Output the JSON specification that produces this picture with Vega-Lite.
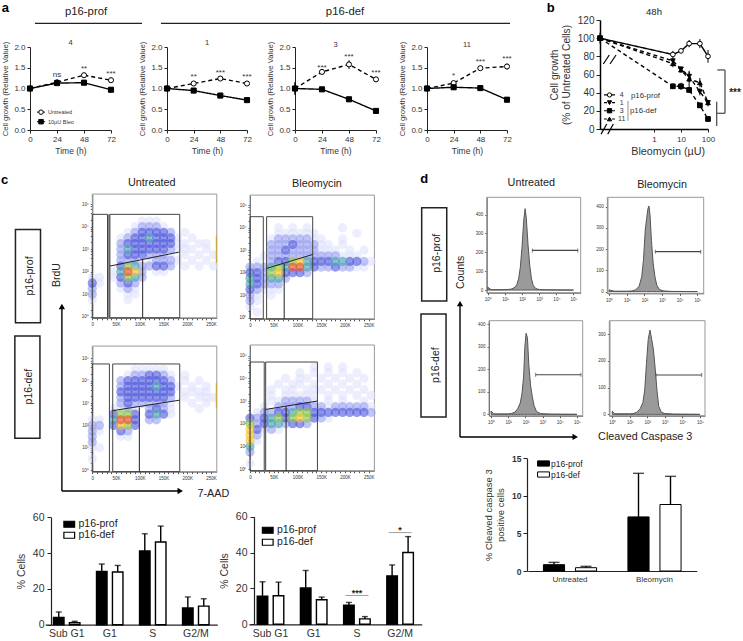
{"$schema":"https://vega.github.io/schema/vega-lite/v6.json","width":743,"height":641,"autosize":{"type":"none"},"padding":0,"background":"white",
"config":{"view":{"stroke":null},"text":{"font":"Liberation Sans","color":"#222"},"axis":{"grid":false,"labelFont":"Liberation Sans","titleFont":"Liberation Sans","titleFontWeight":"normal","labelColor":"#333","titleColor":"#333","domainColor":"#222","tickColor":"#222","labelOverlap":false,"labelFlush":false,"labelBound":false},"legend":{"labelFont":"Liberation Sans","labelColor":"#222"}},
"resolve":{"scale":{"x":"independent","y":"independent","fill":"independent","color":"independent","shape":"independent","strokeDash":"independent","xOffset":"independent"},"axis":{"x":"independent","y":"independent"},"legend":{"fill":"independent","color":"independent","shape":"independent","strokeDash":"independent"}},
"layer":[
{"data":{"values":[
{"group":"Untreated","time":0,"value":1,"low":0.98,"high":1.02},{"group":"Untreated","time":24,"value":1.15,"low":1.12,"high":1.18},{"group":"Untreated","time":48,"value":1.32,"low":1.29,"high":1.35},{"group":"Untreated","time":72,"value":1.2,"low":1.17,"high":1.23},
{"group":"10µU Bleo","time":0,"value":1,"low":0.98,"high":1.02},{"group":"10µU Bleo","time":24,"value":1.13,"low":1.1,"high":1.16},{"group":"10µU Bleo","time":48,"value":1.14,"low":1.11,"high":1.17},{"group":"10µU Bleo","time":72,"value":0.97,"low":0.94,"high":1},
{"role":"star","time":24,"value":1.33,"label":"ns"},{"role":"star","time":48,"value":1.47,"label":"**"},{"role":"star","time":72,"value":1.35,"label":"***"},
{"role":"num","time":36,"value":2.1,"label":"4"},
{"role":"big","time":49.8,"value":2.84,"label":"p16-prof"},{"role":"big","time":280,"value":2.84,"label":"p16-def"},
{"role":"letter","time":-22,"value":2.94,"label":"a"},
{"role":"bar","time":4.4,"time2":99.6,"value":2.57},{"role":"bar","time":116.4,"time2":426.7,"value":2.57},
{"role":"leg","legend":"Untreated","time":6.2,"time2":13.3,"mid":9.8,"value":0.43},{"role":"leg","legend":"10µU Bleo","time":6.2,"time2":13.3,"mid":9.8,"value":0.2}
]},
"encoding":{"x":{"field":"time","type":"quantitative","scale":{"domain":[0,72],"range":[30,111]},"axis":{"orient":"bottom","offset":-511,"values":[0,24,48,72],"title":"Time (h)","labelFontSize":8,"titleFontSize":8.5,"tickSize":3,"labelPadding":2,"titlePadding":3}},"y":{"field":"value","type":"quantitative","scale":{"domain":[0,2],"range":[130,47]},"axis":{"orient":"left","offset":-30,"values":[0,0.5,1,1.5,2],"format":".1f","title":"Cell growth (Relative Value)","labelFontSize":8,"titleFontSize":7.7,"tickSize":3,"labelPadding":2,"titlePadding":4}}},
"layer":[
{"transform":[{"filter":"datum.group"}],"mark":{"type":"rule","color":"#000"},"encoding":{"y":{"field":"low","type":"quantitative"},"y2":{"field":"high"}}},
{"transform":[{"filter":"datum.group"}],"mark":{"type":"line","color":"#000","strokeWidth":1.4},"encoding":{"strokeDash":{"field":"group","scale":{"domain":["Untreated","10µU Bleo"],"range":[[4,3],[1,0]]},"legend":null}}},
{"transform":[{"filter":"datum.group"}],"mark":{"type":"point","filled":true,"stroke":"#000","strokeWidth":1,"size":26,"opacity":1},"encoding":{"fill":{"field":"group","scale":{"domain":["Untreated","10µU Bleo"],"range":["#fff","#000"]},"legend":null},"shape":{"field":"group","scale":{"domain":["Untreated","10µU Bleo"],"range":["circle","square"]},"legend":null}}},
{"transform":[{"filter":"datum.role=='star'"}],"mark":{"type":"text","fontSize":8,"color":"#333"},"encoding":{"text":{"field":"label"}}},
{"transform":[{"filter":"datum.role=='num'"}],"mark":{"type":"text","fontSize":7.5,"color":"#333"},"encoding":{"text":{"field":"label"}}},
{"transform":[{"filter":"datum.role=='big'"}],"mark":{"type":"text","fontSize":11.3,"color":"#222"},"encoding":{"text":{"field":"label"}}},
{"transform":[{"filter":"datum.role=='letter'"}],"mark":{"type":"text","fontSize":13,"fontWeight":"bold","color":"#000"},"encoding":{"text":{"field":"label"}}},
{"transform":[{"filter":"datum.role=='bar'"}],"mark":{"type":"rule","color":"#222","strokeWidth":1.2},"encoding":{"x2":{"field":"time2"}}},
{"transform":[{"filter":"datum.role=='leg'"}],"mark":{"type":"rule","color":"#000","strokeWidth":1},"encoding":{"x2":{"field":"time2"}}},
{"transform":[{"filter":"datum.role=='leg'"}],"mark":{"type":"point","filled":true,"stroke":"#000","strokeWidth":1,"size":20,"opacity":1},"encoding":{"x":{"field":"mid","type":"quantitative"},"fill":{"field":"legend","scale":{"domain":["Untreated","10µU Bleo"],"range":["#fff","#000"]},"legend":null},"shape":{"field":"legend","scale":{"domain":["Untreated","10µU Bleo"],"range":["circle","square"]},"legend":null}}},
{"transform":[{"filter":"datum.role=='leg'"}],"mark":{"type":"text","fontSize":5.5,"align":"left","dx":3,"color":"#333"},"encoding":{"x":{"field":"time2","type":"quantitative"},"text":{"field":"legend"}}}
]},
{"data":{"values":[
{"group":"Untreated","time":0,"value":1,"low":0.98,"high":1.02},{"group":"Untreated","time":24,"value":1.12,"low":1.09,"high":1.15},{"group":"Untreated","time":48,"value":1.24,"low":1.21,"high":1.27},{"group":"Untreated","time":72,"value":1.12,"low":1.09,"high":1.15},
{"group":"10µU Bleo","time":0,"value":1,"low":0.98,"high":1.02},{"group":"10µU Bleo","time":24,"value":0.95,"low":0.92,"high":0.98},{"group":"10µU Bleo","time":48,"value":0.83,"low":0.8,"high":0.86},{"group":"10µU Bleo","time":72,"value":0.72,"low":0.69,"high":0.75},
{"role":"star","time":24,"value":1.27,"label":"**"},{"role":"star","time":48,"value":1.38,"label":"***"},{"role":"star","time":72,"value":1.28,"label":"***"},
{"role":"num","time":36,"value":2.1,"label":"1"}]},
"encoding":{"x":{"field":"time","type":"quantitative","scale":{"domain":[0,72],"range":[167,247]},"axis":{"orient":"bottom","offset":-511,"values":[0,24,48,72],"title":"Time (h)","labelFontSize":8,"titleFontSize":8.5,"tickSize":3,"labelPadding":2,"titlePadding":3}},"y":{"field":"value","type":"quantitative","scale":{"domain":[0,2],"range":[130,47]},"axis":{"orient":"left","offset":-167,"values":[0,0.5,1,1.5,2],"format":".1f","title":"Cell growth (Relative Value)","labelFontSize":8,"titleFontSize":7.7,"tickSize":3,"labelPadding":2,"titlePadding":4}}},
"layer":[
{"transform":[{"filter":"datum.group"}],"mark":{"type":"rule","color":"#000"},"encoding":{"y":{"field":"low","type":"quantitative"},"y2":{"field":"high"}}},
{"transform":[{"filter":"datum.group"}],"mark":{"type":"line","color":"#000","strokeWidth":1.4},"encoding":{"strokeDash":{"field":"group","scale":{"domain":["Untreated","10µU Bleo"],"range":[[4,3],[1,0]]},"legend":null}}},
{"transform":[{"filter":"datum.group"}],"mark":{"type":"point","filled":true,"stroke":"#000","strokeWidth":1,"size":26,"opacity":1},"encoding":{"fill":{"field":"group","scale":{"domain":["Untreated","10µU Bleo"],"range":["#fff","#000"]},"legend":null},"shape":{"field":"group","scale":{"domain":["Untreated","10µU Bleo"],"range":["circle","square"]},"legend":null}}},
{"transform":[{"filter":"datum.role=='star'"}],"mark":{"type":"text","fontSize":8,"color":"#333"},"encoding":{"text":{"field":"label"}}},
{"transform":[{"filter":"datum.role=='num'"}],"mark":{"type":"text","fontSize":7.5,"color":"#333"},"encoding":{"text":{"field":"label"}}}
]},
{"data":{"values":[
{"group":"Untreated","time":0,"value":1,"low":0.85,"high":1.15},{"group":"Untreated","time":24,"value":1.4,"low":1.36,"high":1.44},{"group":"Untreated","time":48,"value":1.58,"low":1.47,"high":1.68},{"group":"Untreated","time":72,"value":1.22,"low":1.18,"high":1.26},
{"group":"10µU Bleo","time":0,"value":1,"low":0.85,"high":1.15},{"group":"10µU Bleo","time":24,"value":0.98,"low":0.93,"high":1.03},{"group":"10µU Bleo","time":48,"value":0.74,"low":0.7,"high":0.78},{"group":"10µU Bleo","time":72,"value":0.46,"low":0.43,"high":0.49},
{"role":"star","time":24,"value":1.5,"label":"***"},{"role":"star","time":48,"value":1.77,"label":"***"},{"role":"star","time":72,"value":1.37,"label":"***"},
{"role":"num","time":36,"value":2.05,"label":"3"}]},
"encoding":{"x":{"field":"time","type":"quantitative","scale":{"domain":[0,72],"range":[295,376]},"axis":{"orient":"bottom","offset":-511,"values":[0,24,48,72],"title":"Time (h)","labelFontSize":8,"titleFontSize":8.5,"tickSize":3,"labelPadding":2,"titlePadding":3}},"y":{"field":"value","type":"quantitative","scale":{"domain":[0,2],"range":[130,47]},"axis":{"orient":"left","offset":-295,"values":[0,0.5,1,1.5,2],"format":".1f","title":"Cell growth (Relative Value)","labelFontSize":8,"titleFontSize":7.7,"tickSize":3,"labelPadding":2,"titlePadding":4}}},
"layer":[
{"transform":[{"filter":"datum.group"}],"mark":{"type":"rule","color":"#000"},"encoding":{"y":{"field":"low","type":"quantitative"},"y2":{"field":"high"}}},
{"transform":[{"filter":"datum.group"}],"mark":{"type":"line","color":"#000","strokeWidth":1.4},"encoding":{"strokeDash":{"field":"group","scale":{"domain":["Untreated","10µU Bleo"],"range":[[4,3],[1,0]]},"legend":null}}},
{"transform":[{"filter":"datum.group"}],"mark":{"type":"point","filled":true,"stroke":"#000","strokeWidth":1,"size":26,"opacity":1},"encoding":{"fill":{"field":"group","scale":{"domain":["Untreated","10µU Bleo"],"range":["#fff","#000"]},"legend":null},"shape":{"field":"group","scale":{"domain":["Untreated","10µU Bleo"],"range":["circle","square"]},"legend":null}}},
{"transform":[{"filter":"datum.role=='star'"}],"mark":{"type":"text","fontSize":8,"color":"#333"},"encoding":{"text":{"field":"label"}}},
{"transform":[{"filter":"datum.role=='num'"}],"mark":{"type":"text","fontSize":7.5,"color":"#333"},"encoding":{"text":{"field":"label"}}}
]},
{"data":{"values":[
{"group":"Untreated","time":0,"value":1,"low":0.98,"high":1.02},{"group":"Untreated","time":24,"value":1.13,"low":1.09,"high":1.17},{"group":"Untreated","time":48,"value":1.49,"low":1.45,"high":1.53},{"group":"Untreated","time":72,"value":1.53,"low":1.46,"high":1.6},
{"group":"10µU Bleo","time":0,"value":1,"low":0.98,"high":1.02},{"group":"10µU Bleo","time":24,"value":1.03,"low":1,"high":1.06},{"group":"10µU Bleo","time":48,"value":1.01,"low":0.98,"high":1.04},{"group":"10µU Bleo","time":72,"value":0.73,"low":0.67,"high":0.79},
{"role":"star","time":24,"value":1.3,"label":"*"},{"role":"star","time":48,"value":1.63,"label":"***"},{"role":"star","time":72,"value":1.71,"label":"***"},
{"role":"num","time":36,"value":2.05,"label":"11"}]},
"encoding":{"x":{"field":"time","type":"quantitative","scale":{"domain":[0,72],"range":[427,507]},"axis":{"orient":"bottom","offset":-511,"values":[0,24,48,72],"title":"Time (h)","labelFontSize":8,"titleFontSize":8.5,"tickSize":3,"labelPadding":2,"titlePadding":3}},"y":{"field":"value","type":"quantitative","scale":{"domain":[0,2],"range":[130,47]},"axis":{"orient":"left","offset":-427,"values":[0,0.5,1,1.5,2],"format":".1f","title":"Cell growth (Relative Value)","labelFontSize":8,"titleFontSize":7.7,"tickSize":3,"labelPadding":2,"titlePadding":4}}},
"layer":[
{"transform":[{"filter":"datum.group"}],"mark":{"type":"rule","color":"#000"},"encoding":{"y":{"field":"low","type":"quantitative"},"y2":{"field":"high"}}},
{"transform":[{"filter":"datum.group"}],"mark":{"type":"line","color":"#000","strokeWidth":1.4},"encoding":{"strokeDash":{"field":"group","scale":{"domain":["Untreated","10µU Bleo"],"range":[[4,3],[1,0]]},"legend":null}}},
{"transform":[{"filter":"datum.group"}],"mark":{"type":"point","filled":true,"stroke":"#000","strokeWidth":1,"size":26,"opacity":1},"encoding":{"fill":{"field":"group","scale":{"domain":["Untreated","10µU Bleo"],"range":["#fff","#000"]},"legend":null},"shape":{"field":"group","scale":{"domain":["Untreated","10µU Bleo"],"range":["circle","square"]},"legend":null}}},
{"transform":[{"filter":"datum.role=='star'"}],"mark":{"type":"text","fontSize":8,"color":"#333"},"encoding":{"text":{"field":"label"}}},
{"transform":[{"filter":"datum.role=='num'"}],"mark":{"type":"text","fontSize":7.5,"color":"#333"},"encoding":{"text":{"field":"label"}}}
]},
{"data":{"values":[
{"group":"4","dose":0.01,"value":100,"low":94,"high":106},{"group":"4","dose":5,"value":82,"low":78,"high":86},{"group":"4","dose":10,"value":86,"low":84,"high":88},{"group":"4","dose":20,"value":94,"low":90,"high":98},{"group":"4","dose":50,"value":94,"low":89,"high":99},{"group":"4","dose":100,"value":80,"low":73,"high":87},
{"group":"1","dose":0.01,"value":100,"low":97,"high":103},{"group":"1","dose":5,"value":75,"low":72,"high":78},{"group":"1","dose":10,"value":66,"low":63,"high":69},{"group":"1","dose":20,"value":58,"low":52,"high":64},{"group":"1","dose":50,"value":41,"low":37,"high":45},{"group":"1","dose":100,"value":29,"low":26,"high":32},
{"group":"3","dose":0.01,"value":100,"low":97,"high":103},{"group":"3","dose":5,"value":47,"low":44,"high":50},{"group":"3","dose":10,"value":47,"low":43,"high":51},{"group":"3","dose":20,"value":43,"low":40,"high":46},{"group":"3","dose":50,"value":26,"low":23,"high":29},{"group":"3","dose":100,"value":11,"low":9,"high":13},
{"group":"11","dose":0.01,"value":100,"low":97,"high":103},{"group":"11","dose":5,"value":72,"low":68,"high":76},{"group":"11","dose":10,"value":65,"low":62,"high":68},{"group":"11","dose":20,"value":55,"low":46,"high":63},{"group":"11","dose":50,"value":51,"low":46,"high":56},{"group":"11","dose":100,"value":29,"low":25,"high":32},
{"role":"title","dose":1,"value":129,"label":"48h"},{"role":"letter","dose":0.0082,"value":133,"label":"b"},
{"role":"slash","dose":0.01325,"dose2":0.0221,"value":71.6,"value2":81.5},{"role":"slash","dose":0.02346,"dose2":0.0392,"value":71.6,"value2":81.5},{"role":"slash","dose":0.0109,"dose2":0.0177,"value":-5.8,"value2":5.5},{"role":"slash","dose":0.0193,"dose2":0.0311,"value":-5.8,"value2":5.5},
{"role":"sig","dose":221,"dose2":426,"value":65,"value2":65},{"role":"sig","dose":426,"dose2":426,"value":65,"value2":17.3},{"role":"sig","dose":210,"dose2":426,"value":17.3,"value2":17.3},{"role":"sig","dose":210,"dose2":210,"value":30,"value2":3.3},
{"role":"sigtext","dose":1000,"value":40,"label":"***"},
{"role":"leg","legend":"4","dose":0.01406,"dose2":0.0359,"mid":0.0225,"value":37.5,"lx":0.0637},{"role":"leg","legend":"1","dose":0.01406,"dose2":0.0359,"mid":0.0225,"value":29,"lx":0.0637},{"role":"leg","legend":"3","dose":0.01406,"dose2":0.0359,"mid":0.0225,"value":20.1,"lx":0.0637},{"role":"leg","legend":"11","dose":0.01406,"dose2":0.0359,"mid":0.0225,"value":11,"lx":0.0637},
{"role":"type","dose":0.1406,"value":36.3,"label":"p16-prof"},{"role":"type","dose":0.1292,"value":20.1,"label":"p16-def"},
{"role":"brace","dose":0.1089,"dose2":0.1089,"value":31,"value2":9}
]},
"encoding":{"x":{"field":"dose","type":"quantitative","scale":{"type":"log","domain":[0.01,100],"range":[600,708],"nice":false},"axis":{"orient":"bottom","offset":-512,"values":[1,10,100],"format":"d","title":"Bleomycin (µU)","titleX":667.7,"labelFontSize":8,"titleFontSize":10.8,"tickSize":3,"labelPadding":3,"titlePadding":2,"domainWidth":1.5,"domainColor":"#000"}},"y":{"field":"value","type":"quantitative","scale":{"domain":[0,120],"range":[129,20]},"axis":{"orient":"left","offset":-600,"values":[0,20,40,60,80,100,120],"title":["Cell growth","(% of Untreated Cells)"],"labelFontSize":10,"titleFontSize":10.2,"titleLineHeight":12,"tickSize":4,"labelPadding":2,"titlePadding":6,"domainWidth":1.5,"domainColor":"#000"}}},
"layer":[
{"transform":[{"filter":"datum.group"}],"mark":{"type":"rule","color":"#000"},"encoding":{"y":{"field":"low","type":"quantitative"},"y2":{"field":"high"}}},
{"transform":[{"filter":"datum.group"}],"mark":{"type":"line","color":"#000","strokeWidth":1.4},"encoding":{"strokeDash":{"field":"group","scale":{"domain":["4","1","3","11"],"range":[[1,0],[4,3],[4,3],[4,3]]},"legend":null}}},
{"transform":[{"filter":"datum.group"}],"mark":{"type":"point","filled":true,"stroke":"#000","strokeWidth":1,"size":22,"opacity":1},"encoding":{"fill":{"field":"group","scale":{"domain":["4","1","3","11"],"range":["#fff","#000","#000","#000"]},"legend":null},"shape":{"field":"group","scale":{"domain":["4","1","3","11"],"range":["circle","triangle-down","square","triangle-up"]},"legend":null}}},
{"transform":[{"filter":"datum.role=='title'"}],"mark":{"type":"text","fontSize":9.5},"encoding":{"text":{"field":"label"}}},
{"transform":[{"filter":"datum.role=='letter'"}],"mark":{"type":"text","fontSize":13,"fontWeight":"bold","color":"#000","dx":-47},"encoding":{"text":{"field":"label"}}},
{"transform":[{"filter":"datum.role=='slash'"}],"mark":{"type":"rule","color":"#000","strokeWidth":1.2},"encoding":{"x2":{"field":"dose2"},"y2":{"field":"value2"}}},
{"transform":[{"filter":"datum.role=='sig'"}],"mark":{"type":"rule","color":"#444","strokeWidth":1.2},"encoding":{"x2":{"field":"dose2"},"y2":{"field":"value2"}}},
{"transform":[{"filter":"datum.role=='sigtext'"}],"mark":{"type":"text","fontSize":10,"fontWeight":"bold"},"encoding":{"text":{"field":"label"}}},
{"transform":[{"filter":"datum.role=='leg'"}],"mark":{"type":"rule","color":"#000","strokeWidth":1.2,"strokeDash":[3,1]},"encoding":{"x2":{"field":"dose2"}}},
{"transform":[{"filter":"datum.role=='leg'"}],"mark":{"type":"point","filled":true,"stroke":"#000","strokeWidth":1,"size":18,"opacity":1},"encoding":{"x":{"field":"mid","type":"quantitative"},"fill":{"field":"legend","scale":{"domain":["4","1","3","11"],"range":["#fff","#000","#000","#000"]},"legend":null},"shape":{"field":"legend","scale":{"domain":["4","1","3","11"],"range":["circle","triangle-down","square","triangle-up"]},"legend":null}}},
{"transform":[{"filter":"datum.role=='leg'"}],"mark":{"type":"text","fontSize":7,"color":"#333"},"encoding":{"x":{"field":"lx","type":"quantitative"},"text":{"field":"legend"}}},
{"transform":[{"filter":"datum.role=='type'"}],"mark":{"type":"text","fontSize":7.8,"align":"left","color":"#333"},"encoding":{"text":{"field":"label"}}},
{"transform":[{"filter":"datum.role=='brace'"}],"mark":{"type":"rule","color":"#777","strokeWidth":0.8},"encoding":{"x2":{"field":"dose2"},"y2":{"field":"value2"}}}
]},
{"data":{"values":[
{"role":"frame","k":0,"k2":262,"e":-0.05,"e2":5.45},
{"k":105,"e":4.25,"d":1},{"k":120,"e":4.25,"d":1},{"k":135,"e":4.25,"d":1},
{"k":90,"e":4,"d":1},{"k":105,"e":4,"d":2},{"k":120,"e":4,"d":2},{"k":135,"e":4,"d":2},{"k":150,"e":4,"d":1},
{"k":75,"e":3.75,"d":1},{"k":90,"e":3.75,"d":2},{"k":105,"e":3.75,"d":3},{"k":120,"e":3.75,"d":3},{"k":135,"e":3.75,"d":3},{"k":150,"e":3.75,"d":3},{"k":165,"e":3.75,"d":2},{"k":195,"e":3.75,"d":1},
{"k":60,"e":3.5,"d":1},{"k":75,"e":3.5,"d":2},{"k":90,"e":3.5,"d":3},{"k":105,"e":3.5,"d":3},{"k":120,"e":3.5,"d":4},{"k":135,"e":3.5,"d":3},{"k":150,"e":3.5,"d":3},{"k":165,"e":3.5,"d":3},{"k":180,"e":3.5,"d":1},{"k":210,"e":3.5,"d":1},
{"k":60,"e":3.25,"d":2},{"k":75,"e":3.25,"d":3},{"k":90,"e":3.25,"d":3},{"k":105,"e":3.25,"d":3},{"k":120,"e":3.25,"d":3},{"k":135,"e":3.25,"d":3},{"k":150,"e":3.25,"d":3},{"k":165,"e":3.25,"d":3},{"k":180,"e":3.25,"d":1},{"k":195,"e":3.25,"d":1},{"k":225,"e":3.25,"d":1},{"k":240,"e":3.25,"d":1},
{"k":60,"e":3,"d":2},{"k":75,"e":3,"d":4},{"k":90,"e":3,"d":3},{"k":105,"e":3,"d":3},{"k":120,"e":3,"d":3},{"k":135,"e":3,"d":3},{"k":150,"e":3,"d":3},{"k":165,"e":3,"d":2},{"k":180,"e":3,"d":1},{"k":195,"e":3,"d":1},{"k":210,"e":3,"d":1},{"k":240,"e":3,"d":1},
{"k":60,"e":2.75,"d":2},{"k":75,"e":2.75,"d":3},{"k":90,"e":2.75,"d":3},{"k":105,"e":2.75,"d":3},{"k":120,"e":2.75,"d":2},{"k":135,"e":2.75,"d":2},{"k":150,"e":2.75,"d":2},{"k":165,"e":2.75,"d":1},{"k":195,"e":2.75,"d":1},{"k":225,"e":2.75,"d":1},{"k":255,"e":2.75,"d":1},
{"k":60,"e":2.5,"d":2},{"k":75,"e":2.5,"d":2},{"k":90,"e":2.5,"d":2},{"k":120,"e":2.5,"d":1},{"k":135,"e":2.5,"d":2},{"k":150,"e":2.5,"d":2},{"k":165,"e":2.5,"d":2},{"k":180,"e":2.5,"d":1},{"k":210,"e":2.5,"d":1},{"k":240,"e":2.5,"d":1},
{"k":60,"e":2.25,"d":3},{"k":75,"e":2.25,"d":5},{"k":90,"e":2.25,"d":4},{"k":105,"e":2.25,"d":2},{"k":120,"e":2.25,"d":2},{"k":135,"e":2.25,"d":3},{"k":150,"e":2.25,"d":3},{"k":165,"e":2.25,"d":2},{"k":195,"e":2.25,"d":1},{"k":225,"e":2.25,"d":1},{"k":255,"e":2.25,"d":1},
{"k":45,"e":2,"d":1},{"k":60,"e":2,"d":4},{"k":75,"e":2,"d":7},{"k":90,"e":2,"d":6},{"k":105,"e":2,"d":2},{"k":135,"e":2,"d":1},{"k":150,"e":2,"d":1},
{"k":0,"e":1.75,"d":1},{"k":15,"e":1.75,"d":1},{"k":45,"e":1.75,"d":1},{"k":60,"e":1.75,"d":3},{"k":75,"e":1.75,"d":5},{"k":90,"e":1.75,"d":4},{"k":105,"e":1.75,"d":2},
{"k":0,"e":1.5,"d":3},{"k":15,"e":1.5,"d":1},{"k":60,"e":1.5,"d":2},{"k":75,"e":1.5,"d":3},{"k":90,"e":1.5,"d":2},
{"k":0,"e":1.25,"d":2},{"k":60,"e":1.25,"d":1},{"k":75,"e":1.25,"d":2},{"k":90,"e":1.25,"d":1},
{"k":0,"e":1,"d":2},{"k":75,"e":1,"d":1},{"k":90,"e":1,"d":1},{"k":0,"e":0.75,"d":1},{"k":75,"e":0.75,"d":1},
{"role":"band","k":32,"k2":37,"e":-0.05,"e2":4.55},
{"role":"edge","k":261,"k2":261,"e":2.4,"e2":3.6},
{"role":"box","k":0,"k2":32,"e":-0.05,"e2":4.55},{"role":"box","k":37,"k2":184,"e":-0.05,"e2":4.55},
{"role":"gate","k":37,"k2":182,"e":2.25,"e2":2.87},{"role":"gate","k":106,"k2":106,"e":-0.05,"e2":2.52},
{"role":"head","k":125,"e":5.94,"label":"Untreated"},
{"role":"letter","k":-184.3,"e":6.08,"label":"c"},
{"role":"side","k":-161.7,"k2":-109,"e":3.88,"e2":-0.27},{"role":"side","k":-163,"k2":-110.2,"e":-0.86,"e2":-5.4},
{"role":"vlabel","k":-131.5,"e":1.81,"label":"p16-prof"},{"role":"vlabel","k":-133.7,"e":-3.11,"label":"p16-def"},{"role":"vlabel","k":-75.2,"e":1.85,"label":"BrdU"},
{"role":"head","k":254.8,"e":-7.88,"label":"7-AAD"},
{"role":"arrow","k":-64,"k2":-64,"e":0.4,"e2":-7.75},{"role":"arrow","k":-64,"k2":183,"e":-7.75,"e2":-7.75},
{"role":"up","k":-64,"e":0.45},{"role":"right","k":185,"e":-7.75}
]},
"encoding":{"x":{"field":"k","type":"quantitative","scale":{"domain":[0,262],"range":[92.3,216.8]},"axis":{"orient":"bottom","offset":-323.2,"values":[0,10,20,30,40,50,60,70,80,90,100,110,120,130,140,150,160,170,180,190,200,210,220,230,240,250],"labelExpr":"datum.value%50==0?(datum.value==0?'0':datum.value+'K'):''","title":null,"labelFontSize":4.5,"tickSize":2,"labelPadding":2,"domainColor":"#555","tickColor":"#555"}},"y":{"field":"e","type":"quantitative","scale":{"domain":[-0.05,5.45],"range":[317.8,194.1]},"axis":{"orient":"left","offset":-92.3,"values":[0,0.3,0.6,0.8,0.9,1,1.3,1.6,1.8,1.9,2,2.3,2.6,2.8,2.9,3,3.3,3.6,3.8,3.9,4,4.3,4.6,4.8,4.9,5],"labelExpr":"datum.value%1==0?'10'+['⁰','¹','²','³','⁴','⁵'][datum.value]:''","title":null,"labelFontSize":4.5,"tickSize":2,"labelPadding":2,"domainColor":"#555","tickColor":"#555"}}},
"layer":[
{"transform":[{"filter":"datum.role=='frame'"}],"mark":{"type":"rect","filled":false,"stroke":"#999","strokeWidth":1},"encoding":{"x2":{"field":"k2"},"y2":{"field":"e2"}}},
{"transform":[{"filter":"datum.d"}],"mark":{"type":"circle","size":85,"opacity":0.6},"encoding":{"order":{"field":"d","type":"quantitative"},"color":{"field":"d","type":"ordinal","scale":{"domain":[1,2,3,4,5,6,7],"range":["#dfe2fb","#969ef0","#4a54dc","#3f9fb0","#86c43c","#f2c21f","#e8431a"]},"legend":null}}},
{"transform":[{"filter":"datum.role=='band'"}],"mark":{"type":"rect","fill":"#888"},"encoding":{"x2":{"field":"k2"},"y2":{"field":"e2"}}},
{"transform":[{"filter":"datum.role=='edge'"}],"mark":{"type":"rule","color":"#c9a227","strokeWidth":1},"encoding":{"x2":{"field":"k2"},"y2":{"field":"e2"}}},
{"transform":[{"filter":"datum.role=='box'"}],"mark":{"type":"rect","filled":false,"stroke":"#444","strokeWidth":1},"encoding":{"x2":{"field":"k2"},"y2":{"field":"e2"}}},
{"transform":[{"filter":"datum.role=='gate'"}],"mark":{"type":"rule","color":"#222","strokeWidth":1},"encoding":{"x2":{"field":"k2"},"y2":{"field":"e2"}}},
{"transform":[{"filter":"datum.role=='head'"}],"mark":{"type":"text","fontSize":10.8},"encoding":{"text":{"field":"label"}}},
{"transform":[{"filter":"datum.role=='letter'"}],"mark":{"type":"text","fontSize":13,"fontWeight":"bold","color":"#000"},"encoding":{"text":{"field":"label"}}},
{"transform":[{"filter":"datum.role=='side'"}],"mark":{"type":"rect","filled":false,"stroke":"#222","strokeWidth":1.5},"encoding":{"x2":{"field":"k2"},"y2":{"field":"e2"}}},
{"transform":[{"filter":"datum.role=='vlabel'"}],"mark":{"type":"text","fontSize":10.5,"angle":270},"encoding":{"text":{"field":"label"}}},
{"transform":[{"filter":"datum.role=='arrow'"}],"mark":{"type":"rule","color":"#000","strokeWidth":1.4},"encoding":{"x2":{"field":"k2"},"y2":{"field":"e2"}}},
{"transform":[{"filter":"datum.role=='up'"}],"mark":{"type":"point","shape":"triangle-up","filled":true,"color":"#000","size":40,"opacity":1}},
{"transform":[{"filter":"datum.role=='right'"}],"mark":{"type":"point","shape":"triangle-right","filled":true,"color":"#000","size":40,"opacity":1}}
]},
{"data":{"values":[
{"role":"frame","k":0,"k2":262,"e":-0.05,"e2":5.45},
{"k":60,"e":4,"d":1},{"k":90,"e":4,"d":1},{"k":120,"e":4,"d":1},{"k":195,"e":4,"d":1},
{"k":60,"e":3.75,"d":1},{"k":75,"e":3.75,"d":1},{"k":90,"e":3.75,"d":1},{"k":105,"e":3.75,"d":1},{"k":120,"e":3.75,"d":1},{"k":135,"e":3.75,"d":1},{"k":225,"e":3.75,"d":1},
{"k":45,"e":3.5,"d":1},{"k":60,"e":3.5,"d":2},{"k":75,"e":3.5,"d":2},{"k":90,"e":3.5,"d":2},{"k":105,"e":3.5,"d":2},{"k":120,"e":3.5,"d":2},{"k":135,"e":3.5,"d":1},{"k":150,"e":3.5,"d":1},{"k":195,"e":3.5,"d":1},
{"k":45,"e":3.25,"d":2},{"k":60,"e":3.25,"d":2},{"k":75,"e":3.25,"d":2},{"k":90,"e":3.25,"d":3},{"k":105,"e":3.25,"d":2},{"k":120,"e":3.25,"d":2},{"k":135,"e":3.25,"d":2},{"k":150,"e":3.25,"d":1},{"k":165,"e":3.25,"d":1},{"k":195,"e":3.25,"d":1},
{"k":45,"e":3,"d":2},{"k":60,"e":3,"d":2},{"k":75,"e":3,"d":3},{"k":90,"e":3,"d":2},{"k":105,"e":3,"d":2},{"k":120,"e":3,"d":2},{"k":135,"e":3,"d":2},{"k":150,"e":3,"d":1},{"k":165,"e":3,"d":1},{"k":180,"e":3,"d":1},{"k":210,"e":3,"d":1},{"k":240,"e":3,"d":1},
{"k":30,"e":2.75,"d":1},{"k":45,"e":2.75,"d":2},{"k":60,"e":2.75,"d":2},{"k":75,"e":2.75,"d":2},{"k":90,"e":2.75,"d":2},{"k":105,"e":2.75,"d":2},{"k":120,"e":2.75,"d":2},{"k":135,"e":2.75,"d":2},{"k":150,"e":2.75,"d":2},{"k":165,"e":2.75,"d":2},{"k":180,"e":2.75,"d":2},{"k":195,"e":2.75,"d":1},{"k":210,"e":2.75,"d":1},{"k":225,"e":2.75,"d":1},
{"k":15,"e":2.5,"d":1},{"k":45,"e":2.5,"d":2},{"k":60,"e":2.5,"d":3},{"k":75,"e":2.5,"d":3},{"k":90,"e":2.5,"d":5},{"k":105,"e":2.5,"d":6},{"k":120,"e":2.5,"d":4},{"k":135,"e":2.5,"d":3},{"k":150,"e":2.5,"d":3},{"k":165,"e":2.5,"d":3},{"k":180,"e":2.5,"d":4},{"k":195,"e":2.5,"d":4},{"k":210,"e":2.5,"d":3},{"k":225,"e":2.5,"d":3},{"k":240,"e":2.5,"d":2},{"k":255,"e":2.5,"d":1},
{"k":0,"e":2.25,"d":2},{"k":15,"e":2.25,"d":2},{"k":30,"e":2.25,"d":2},{"k":45,"e":2.25,"d":4},{"k":60,"e":2.25,"d":5},{"k":75,"e":2.25,"d":4},{"k":90,"e":2.25,"d":7},{"k":105,"e":2.25,"d":7},{"k":120,"e":2.25,"d":4},{"k":135,"e":2.25,"d":3},{"k":150,"e":2.25,"d":2},{"k":165,"e":2.25,"d":2},{"k":180,"e":2.25,"d":3},{"k":195,"e":2.25,"d":2},{"k":210,"e":2.25,"d":2},{"k":225,"e":2.25,"d":1},{"k":240,"e":2.25,"d":1},
{"k":0,"e":2,"d":3},{"k":15,"e":2,"d":3},{"k":30,"e":2,"d":2},{"k":45,"e":2,"d":5},{"k":60,"e":2,"d":6},{"k":75,"e":2,"d":3},{"k":90,"e":2,"d":3},{"k":105,"e":2,"d":3},{"k":120,"e":2,"d":2},
{"k":0,"e":1.75,"d":4},{"k":15,"e":1.75,"d":3},{"k":30,"e":1.75,"d":2},{"k":45,"e":1.75,"d":4},{"k":60,"e":1.75,"d":4},{"k":75,"e":1.75,"d":2},
{"k":0,"e":1.5,"d":4},{"k":15,"e":1.5,"d":3},{"k":30,"e":1.5,"d":2},{"k":45,"e":1.5,"d":2},{"k":60,"e":1.5,"d":2},
{"k":0,"e":1.25,"d":3},{"k":15,"e":1.25,"d":2},{"k":30,"e":1.25,"d":1},{"k":45,"e":1.25,"d":1},{"k":60,"e":1.25,"d":1},
{"k":0,"e":1,"d":2},{"k":15,"e":1,"d":1},{"k":45,"e":1,"d":1},{"k":0,"e":0.75,"d":2},{"k":15,"e":0.75,"d":1},{"k":0,"e":0.5,"d":1},{"k":15,"e":0.25,"d":1},
{"role":"box","k":0,"k2":28,"e":-0.05,"e2":4.49},{"role":"box","k":35,"k2":132,"e":-0.05,"e2":4.49},
{"role":"gate","k":35,"k2":132,"e":2.19,"e2":2.81},{"role":"gate","k":72,"k2":72,"e":-0.05,"e2":2.39},
{"role":"head","k":141,"e":5.94,"label":"Bleomycin"}
]},
"encoding":{"x":{"field":"k","type":"quantitative","scale":{"domain":[0,262],"range":[250,374.4]},"axis":{"orient":"bottom","offset":-322.2,"values":[0,10,20,30,40,50,60,70,80,90,100,110,120,130,140,150,160,170,180,190,200,210,220,230,240,250],"labelExpr":"datum.value%50==0?(datum.value==0?'0':datum.value+'K'):''","title":null,"labelFontSize":4.5,"tickSize":2,"labelPadding":2,"domainColor":"#555","tickColor":"#555"}},"y":{"field":"e","type":"quantitative","scale":{"domain":[-0.05,5.45],"range":[318.8,195.1]},"axis":{"orient":"left","offset":-250,"values":[0,0.3,0.6,0.8,0.9,1,1.3,1.6,1.8,1.9,2,2.3,2.6,2.8,2.9,3,3.3,3.6,3.8,3.9,4,4.3,4.6,4.8,4.9,5],"labelExpr":"datum.value%1==0?'10'+['⁰','¹','²','³','⁴','⁵'][datum.value]:''","title":null,"labelFontSize":4.5,"tickSize":2,"labelPadding":2,"domainColor":"#555","tickColor":"#555"}}},
"layer":[
{"transform":[{"filter":"datum.role=='frame'"}],"mark":{"type":"rect","filled":false,"stroke":"#999","strokeWidth":1},"encoding":{"x2":{"field":"k2"},"y2":{"field":"e2"}}},
{"transform":[{"filter":"datum.d"}],"mark":{"type":"circle","size":85,"opacity":0.6},"encoding":{"order":{"field":"d","type":"quantitative"},"color":{"field":"d","type":"ordinal","scale":{"domain":[1,2,3,4,5,6,7],"range":["#dfe2fb","#969ef0","#4a54dc","#3f9fb0","#86c43c","#f2c21f","#e8431a"]},"legend":null}}},
{"transform":[{"filter":"datum.role=='box'"}],"mark":{"type":"rect","filled":false,"stroke":"#444","strokeWidth":1},"encoding":{"x2":{"field":"k2"},"y2":{"field":"e2"}}},
{"transform":[{"filter":"datum.role=='gate'"}],"mark":{"type":"rule","color":"#222","strokeWidth":1},"encoding":{"x2":{"field":"k2"},"y2":{"field":"e2"}}},
{"transform":[{"filter":"datum.role=='head'"}],"mark":{"type":"text","fontSize":10.8},"encoding":{"text":{"field":"label"}}}
]},
{"data":{"values":[
{"role":"frame","k":0,"k2":262,"e":-0.07,"e2":5.55},
{"k":90,"e":4.5,"d":1},{"k":105,"e":4.5,"d":1},{"k":120,"e":4.5,"d":1},{"k":135,"e":4.5,"d":1},{"k":150,"e":4.5,"d":1},
{"k":75,"e":4.25,"d":1},{"k":90,"e":4.25,"d":2},{"k":105,"e":4.25,"d":2},{"k":120,"e":4.25,"d":3},{"k":135,"e":4.25,"d":3},{"k":150,"e":4.25,"d":2},{"k":165,"e":4.25,"d":1},{"k":195,"e":4.25,"d":1},
{"k":60,"e":4,"d":2},{"k":75,"e":4,"d":3},{"k":90,"e":4,"d":3},{"k":105,"e":4,"d":3},{"k":120,"e":4,"d":3},{"k":135,"e":4,"d":3},{"k":150,"e":4,"d":3},{"k":165,"e":4,"d":2},{"k":195,"e":4,"d":1},{"k":225,"e":4,"d":1},
{"k":60,"e":3.75,"d":2},{"k":75,"e":3.75,"d":3},{"k":90,"e":3.75,"d":3},{"k":105,"e":3.75,"d":3},{"k":120,"e":3.75,"d":3},{"k":135,"e":3.75,"d":4},{"k":150,"e":3.75,"d":3},{"k":165,"e":3.75,"d":3},{"k":180,"e":3.75,"d":1},{"k":210,"e":3.75,"d":1},{"k":240,"e":3.75,"d":1},
{"k":60,"e":3.5,"d":3},{"k":75,"e":3.5,"d":3},{"k":90,"e":3.5,"d":3},{"k":105,"e":3.5,"d":3},{"k":120,"e":3.5,"d":3},{"k":135,"e":3.5,"d":3},{"k":150,"e":3.5,"d":3},{"k":165,"e":3.5,"d":3},{"k":195,"e":3.5,"d":1},{"k":210,"e":3.5,"d":1},{"k":225,"e":3.5,"d":1},{"k":240,"e":3.5,"d":1},
{"k":60,"e":3.25,"d":2},{"k":75,"e":3.25,"d":3},{"k":90,"e":3.25,"d":3},{"k":105,"e":3.25,"d":3},{"k":120,"e":3.25,"d":3},{"k":135,"e":3.25,"d":3},{"k":150,"e":3.25,"d":3},{"k":165,"e":3.25,"d":2},{"k":195,"e":3.25,"d":1},{"k":225,"e":3.25,"d":1},{"k":240,"e":3.25,"d":1},{"k":255,"e":3.25,"d":1},
{"k":60,"e":3,"d":2},{"k":75,"e":3,"d":3},{"k":90,"e":3,"d":2},{"k":105,"e":3,"d":2},{"k":120,"e":3,"d":2},{"k":135,"e":3,"d":2},{"k":150,"e":3,"d":2},{"k":165,"e":3,"d":1},{"k":210,"e":3,"d":1},{"k":240,"e":3,"d":1},
{"k":45,"e":2.75,"d":1},{"k":60,"e":2.75,"d":1},{"k":75,"e":2.75,"d":2},{"k":90,"e":2.75,"d":1},{"k":120,"e":2.75,"d":2},{"k":135,"e":2.75,"d":3},{"k":150,"e":2.75,"d":2},{"k":165,"e":2.75,"d":1},{"k":225,"e":2.75,"d":1},
{"k":45,"e":2.5,"d":3},{"k":60,"e":2.5,"d":5},{"k":75,"e":2.5,"d":5},{"k":90,"e":2.5,"d":3},{"k":120,"e":2.5,"d":3},{"k":135,"e":2.5,"d":4},{"k":150,"e":2.5,"d":3},{"k":165,"e":2.5,"d":1},
{"k":0,"e":2.25,"d":1},{"k":15,"e":2.25,"d":1},{"k":45,"e":2.25,"d":4},{"k":60,"e":2.25,"d":7},{"k":75,"e":2.25,"d":7},{"k":90,"e":2.25,"d":3},{"k":120,"e":2.25,"d":2},{"k":135,"e":2.25,"d":2},
{"k":0,"e":2,"d":2},{"k":15,"e":2,"d":2},{"k":45,"e":2,"d":3},{"k":60,"e":2,"d":6},{"k":75,"e":2,"d":5},{"k":90,"e":2,"d":3},
{"k":0,"e":1.75,"d":2},{"k":15,"e":1.75,"d":1},{"k":60,"e":1.75,"d":3},{"k":75,"e":1.75,"d":2},
{"k":0,"e":1.5,"d":2},{"k":60,"e":1.5,"d":1},{"k":75,"e":1.5,"d":1},{"k":0,"e":1.25,"d":2},{"k":0,"e":1,"d":1},{"k":15,"e":1,"d":1},{"k":0,"e":0.5,"d":1},
{"role":"edge","k":261,"k2":261,"e":2.8,"e2":3.9},
{"role":"box","k":0,"k2":36,"e":-0.07,"e2":4.75},{"role":"box","k":43,"k2":184,"e":-0.07,"e2":4.75},
{"role":"gate","k":43,"k2":184,"e":2.66,"e2":3.13},{"role":"gate","k":99,"k2":99,"e":-0.07,"e2":2.81}
]},
"encoding":{"x":{"field":"k","type":"quantitative","scale":{"domain":[0,262],"range":[92.3,216.8]},"axis":{"orient":"bottom","offset":-169.4,"values":[0,10,20,30,40,50,60,70,80,90,100,110,120,130,140,150,160,170,180,190,200,210,220,230,240,250],"labelExpr":"datum.value%50==0?(datum.value==0?'0':datum.value+'K'):''","title":null,"labelFontSize":4.5,"tickSize":2,"labelPadding":2,"domainColor":"#555","tickColor":"#555"}},"y":{"field":"e","type":"quantitative","scale":{"domain":[-0.07,5.55],"range":[471.6,346.1]},"axis":{"orient":"left","offset":-92.3,"values":[0,0.3,0.6,0.8,0.9,1,1.3,1.6,1.8,1.9,2,2.3,2.6,2.8,2.9,3,3.3,3.6,3.8,3.9,4,4.3,4.6,4.8,4.9,5],"labelExpr":"datum.value%1==0?'10'+['⁰','¹','²','³','⁴','⁵'][datum.value]:''","title":null,"labelFontSize":4.5,"tickSize":2,"labelPadding":2,"domainColor":"#555","tickColor":"#555"}}},
"layer":[
{"transform":[{"filter":"datum.role=='frame'"}],"mark":{"type":"rect","filled":false,"stroke":"#999","strokeWidth":1},"encoding":{"x2":{"field":"k2"},"y2":{"field":"e2"}}},
{"transform":[{"filter":"datum.d"}],"mark":{"type":"circle","size":85,"opacity":0.6},"encoding":{"order":{"field":"d","type":"quantitative"},"color":{"field":"d","type":"ordinal","scale":{"domain":[1,2,3,4,5,6,7],"range":["#dfe2fb","#969ef0","#4a54dc","#3f9fb0","#86c43c","#f2c21f","#e8431a"]},"legend":null}}},
{"transform":[{"filter":"datum.role=='edge'"}],"mark":{"type":"rule","color":"#c9a227","strokeWidth":1},"encoding":{"x2":{"field":"k2"},"y2":{"field":"e2"}}},
{"transform":[{"filter":"datum.role=='box'"}],"mark":{"type":"rect","filled":false,"stroke":"#444","strokeWidth":1},"encoding":{"x2":{"field":"k2"},"y2":{"field":"e2"}}},
{"transform":[{"filter":"datum.role=='gate'"}],"mark":{"type":"rule","color":"#222","strokeWidth":1},"encoding":{"x2":{"field":"k2"},"y2":{"field":"e2"}}}
]},
{"data":{"values":[
{"role":"frame","k":0,"k2":262,"e":-0.07,"e2":5.47},
{"k":135,"e":4.5,"d":1},{"k":165,"e":4.5,"d":1},{"k":195,"e":4.5,"d":1},
{"k":105,"e":4.25,"d":1},{"k":135,"e":4.25,"d":1},{"k":165,"e":4.25,"d":1},{"k":195,"e":4.25,"d":1},{"k":225,"e":4.25,"d":1},
{"k":75,"e":4,"d":1},{"k":105,"e":4,"d":1},{"k":120,"e":4,"d":1},{"k":150,"e":4,"d":1},{"k":180,"e":4,"d":1},{"k":210,"e":4,"d":1},{"k":240,"e":4,"d":1},
{"k":60,"e":3.75,"d":1},{"k":90,"e":3.75,"d":1},{"k":105,"e":3.75,"d":1},{"k":135,"e":3.75,"d":1},{"k":165,"e":3.75,"d":1},{"k":195,"e":3.75,"d":1},{"k":225,"e":3.75,"d":1},
{"k":45,"e":3.5,"d":1},{"k":75,"e":3.5,"d":1},{"k":90,"e":3.5,"d":1},{"k":120,"e":3.5,"d":1},{"k":135,"e":3.5,"d":1},{"k":150,"e":3.5,"d":1},{"k":180,"e":3.5,"d":1},{"k":210,"e":3.5,"d":1},{"k":240,"e":3.5,"d":1},
{"k":45,"e":3.25,"d":1},{"k":75,"e":3.25,"d":1},{"k":90,"e":3.25,"d":1},{"k":105,"e":3.25,"d":1},{"k":120,"e":3.25,"d":1},{"k":135,"e":3.25,"d":1},{"k":165,"e":3.25,"d":1},{"k":195,"e":3.25,"d":1},{"k":225,"e":3.25,"d":1},{"k":255,"e":3.25,"d":1},
{"k":45,"e":3,"d":1},{"k":60,"e":3,"d":1},{"k":75,"e":3,"d":2},{"k":90,"e":3,"d":2},{"k":105,"e":3,"d":2},{"k":120,"e":3,"d":2},{"k":135,"e":3,"d":1},{"k":165,"e":3,"d":1},{"k":195,"e":3,"d":1},{"k":240,"e":3,"d":1},
{"k":30,"e":2.75,"d":1},{"k":60,"e":2.75,"d":2},{"k":75,"e":2.75,"d":2},{"k":90,"e":2.75,"d":2},{"k":105,"e":2.75,"d":3},{"k":120,"e":2.75,"d":3},{"k":135,"e":2.75,"d":2},{"k":150,"e":2.75,"d":2},{"k":165,"e":2.75,"d":1},{"k":180,"e":2.75,"d":2},{"k":195,"e":2.75,"d":2},{"k":210,"e":2.75,"d":2},{"k":225,"e":2.75,"d":2},{"k":240,"e":2.75,"d":2},{"k":255,"e":2.75,"d":1},
{"k":15,"e":2.5,"d":1},{"k":30,"e":2.5,"d":2},{"k":45,"e":2.5,"d":2},{"k":60,"e":2.5,"d":3},{"k":75,"e":2.5,"d":3},{"k":90,"e":2.5,"d":4},{"k":105,"e":2.5,"d":5},{"k":120,"e":2.5,"d":5},{"k":135,"e":2.5,"d":3},{"k":150,"e":2.5,"d":3},{"k":165,"e":2.5,"d":3},{"k":180,"e":2.5,"d":3},{"k":195,"e":2.5,"d":3},{"k":210,"e":2.5,"d":3},{"k":225,"e":2.5,"d":3},{"k":240,"e":2.5,"d":3},{"k":255,"e":2.5,"d":2},
{"k":0,"e":2.25,"d":3},{"k":15,"e":2.25,"d":2},{"k":30,"e":2.25,"d":3},{"k":45,"e":2.25,"d":4},{"k":60,"e":2.25,"d":5},{"k":75,"e":2.25,"d":3},{"k":90,"e":2.25,"d":5},{"k":105,"e":2.25,"d":6},{"k":120,"e":2.25,"d":5},{"k":135,"e":2.25,"d":3},{"k":150,"e":2.25,"d":2},{"k":165,"e":2.25,"d":1},
{"k":0,"e":2,"d":5},{"k":15,"e":2,"d":2},{"k":30,"e":2,"d":3},{"k":45,"e":2,"d":4},{"k":60,"e":2,"d":4},{"k":75,"e":2,"d":2},{"k":90,"e":2,"d":3},{"k":105,"e":2,"d":3},{"k":120,"e":2,"d":2},
{"k":0,"e":1.75,"d":6},{"k":15,"e":1.75,"d":3},{"k":30,"e":1.75,"d":1},{"k":45,"e":1.75,"d":2},{"k":60,"e":1.75,"d":1},
{"k":0,"e":1.5,"d":6},{"k":15,"e":1.5,"d":2},{"k":0,"e":1.25,"d":6},{"k":15,"e":1.25,"d":1},{"k":0,"e":1,"d":4},{"k":0,"e":0.75,"d":2},{"k":0,"e":0.25,"d":1},
{"role":"box","k":0,"k2":30,"e":-0.07,"e2":4.72},{"role":"box","k":33,"k2":142,"e":-0.07,"e2":4.72},
{"role":"gate","k":33,"k2":142,"e":2.63,"e2":3},{"role":"gate","k":76,"k2":76,"e":-0.07,"e2":2.78}
]},
"encoding":{"x":{"field":"k","type":"quantitative","scale":{"domain":[0,262],"range":[250,374.4]},"axis":{"orient":"bottom","offset":-170.3,"values":[0,10,20,30,40,50,60,70,80,90,100,110,120,130,140,150,160,170,180,190,200,210,220,230,240,250],"labelExpr":"datum.value%50==0?(datum.value==0?'0':datum.value+'K'):''","title":null,"labelFontSize":4.5,"tickSize":2,"labelPadding":2,"domainColor":"#555","tickColor":"#555"}},"y":{"field":"e","type":"quantitative","scale":{"domain":[-0.07,5.47],"range":[470.7,345]},"axis":{"orient":"left","offset":-250,"values":[0,0.3,0.6,0.8,0.9,1,1.3,1.6,1.8,1.9,2,2.3,2.6,2.8,2.9,3,3.3,3.6,3.8,3.9,4,4.3,4.6,4.8,4.9,5],"labelExpr":"datum.value%1==0?'10'+['⁰','¹','²','³','⁴','⁵'][datum.value]:''","title":null,"labelFontSize":4.5,"tickSize":2,"labelPadding":2,"domainColor":"#555","tickColor":"#555"}}},
"layer":[
{"transform":[{"filter":"datum.role=='frame'"}],"mark":{"type":"rect","filled":false,"stroke":"#999","strokeWidth":1},"encoding":{"x2":{"field":"k2"},"y2":{"field":"e2"}}},
{"transform":[{"filter":"datum.d"}],"mark":{"type":"circle","size":85,"opacity":0.6},"encoding":{"order":{"field":"d","type":"quantitative"},"color":{"field":"d","type":"ordinal","scale":{"domain":[1,2,3,4,5,6,7],"range":["#dfe2fb","#969ef0","#4a54dc","#3f9fb0","#86c43c","#f2c21f","#e8431a"]},"legend":null}}},
{"transform":[{"filter":"datum.role=='box'"}],"mark":{"type":"rect","filled":false,"stroke":"#444","strokeWidth":1},"encoding":{"x2":{"field":"k2"},"y2":{"field":"e2"}}},
{"transform":[{"filter":"datum.role=='gate'"}],"mark":{"type":"rule","color":"#222","strokeWidth":1},"encoding":{"x2":{"field":"k2"},"y2":{"field":"e2"}}}
]},
{"data":{"values":[
{"role":"frame","exp":-0.06,"exp2":5.42,"count":-14,"count2":492},
{"role":"hist","exp":0,"count":15},{"role":"hist","exp":0.2,"count":2},{"role":"hist","exp":1,"count":2},{"role":"hist","exp":1.2,"count":3},{"role":"hist","exp":1.4,"count":6},{"role":"hist","exp":1.6,"count":15},{"role":"hist","exp":1.7,"count":30},{"role":"hist","exp":1.8,"count":60},{"role":"hist","exp":1.9,"count":120},{"role":"hist","exp":2,"count":230},{"role":"hist","exp":2.1,"count":370},{"role":"hist","exp":2.18,"count":432},{"role":"hist","exp":2.25,"count":380},{"role":"hist","exp":2.35,"count":240},{"role":"hist","exp":2.45,"count":130},{"role":"hist","exp":2.55,"count":60},{"role":"hist","exp":2.65,"count":25},{"role":"hist","exp":2.8,"count":8},{"role":"hist","exp":3,"count":3},{"role":"hist","exp":3.5,"count":1},{"role":"hist","exp":5,"count":0},
{"role":"gate","exp":2.6,"exp2":5.25,"count":210},{"role":"cap","exp":2.6,"count":210},{"role":"cap","exp":5.25,"count":210},
{"role":"head","exp":2.54,"count":567,"label":"Untreated"},{"role":"letter","exp":-3.7,"count":588,"label":"d"},
{"role":"side","exp":-3.85,"exp2":-2.39,"count":437,"count2":-58.4},{"role":"side","exp":-3.89,"exp2":-2.43,"count":-127.5,"count2":-672.9},
{"role":"vlabel","exp":-2.94,"count":194.9,"label":"p16-prof"},{"role":"vlabel","exp":-3.02,"count":-398,"label":"p16-def"},{"role":"vlabel","exp":-1.575,"count":94,"label":"Counts"},
{"role":"head","exp":9.18,"count":-779,"label":"Cleaved Caspase 3"},
{"role":"arrow","exp":-1.616,"exp2":-1.616,"count":-70,"count2":-779},{"role":"arrow","exp":-1.616,"exp2":5,"count":-779,"count2":-779},
{"role":"up","exp":-1.616,"count":-72},{"role":"right","exp":5.1,"count":-779}
]},
"encoding":{"x":{"field":"exp","type":"quantitative","scale":{"domain":[-0.06,5.42],"range":[486.7,580.7]},"axis":{"orient":"bottom","offset":-348.3,"values":[0,1,2,3,4,5],"labelExpr":"'10'+['⁰','¹','²','³','⁴','⁵'][datum.value]","title":null,"labelFontSize":4.5,"tickSize":2,"labelPadding":2,"domainColor":"#555","tickColor":"#555"}},"y":{"field":"count","type":"quantitative","scale":{"domain":[-14,492],"range":[292.7,197.3]},"axis":{"orient":"left","offset":-486.7,"values":[0,100,200,300,400],"title":null,"labelFontSize":4.5,"tickSize":2,"labelPadding":2,"domainColor":"#555","tickColor":"#555"}}},
"layer":[
{"transform":[{"filter":"datum.role=='frame'"}],"mark":{"type":"rect","filled":false,"stroke":"#999","strokeWidth":1},"encoding":{"x2":{"field":"exp2"},"y2":{"field":"count2"}}},
{"transform":[{"filter":"datum.role=='hist'"}],"mark":{"type":"area","fill":"#9a9a9a","stroke":"#555","strokeWidth":1}},
{"transform":[{"filter":"datum.role=='gate'"}],"mark":{"type":"rule","color":"#444","strokeWidth":1.2},"encoding":{"x2":{"field":"exp2"}}},
{"transform":[{"filter":"datum.role=='cap'"}],"mark":{"type":"tick","orient":"vertical","size":4,"thickness":1,"color":"#444"}},
{"transform":[{"filter":"datum.role=='head'"}],"mark":{"type":"text","fontSize":10.8},"encoding":{"text":{"field":"label"}}},
{"transform":[{"filter":"datum.role=='letter'"}],"mark":{"type":"text","fontSize":13,"fontWeight":"bold","color":"#000"},"encoding":{"text":{"field":"label"}}},
{"transform":[{"filter":"datum.role=='side'"}],"mark":{"type":"rect","filled":false,"stroke":"#222","strokeWidth":1.5},"encoding":{"x2":{"field":"exp2"},"y2":{"field":"count2"}}},
{"transform":[{"filter":"datum.role=='vlabel'"}],"mark":{"type":"text","fontSize":10.5,"angle":270},"encoding":{"text":{"field":"label"}}},
{"transform":[{"filter":"datum.role=='arrow'"}],"mark":{"type":"rule","color":"#000","strokeWidth":1.4},"encoding":{"x2":{"field":"exp2"},"y2":{"field":"count2"}}},
{"transform":[{"filter":"datum.role=='up'"}],"mark":{"type":"point","shape":"triangle-up","filled":true,"color":"#000","size":40,"opacity":1}},
{"transform":[{"filter":"datum.role=='right'"}],"mark":{"type":"point","shape":"triangle-right","filled":true,"color":"#000","size":40,"opacity":1}}
]},
{"data":{"values":[
{"role":"frame","exp":-0.1,"exp2":5.36,"count":-8,"count2":444},
{"role":"hist","exp":0,"count":8},{"role":"hist","exp":0.3,"count":2},{"role":"hist","exp":1,"count":2},{"role":"hist","exp":1.3,"count":3},{"role":"hist","exp":1.5,"count":8},{"role":"hist","exp":1.7,"count":25},{"role":"hist","exp":1.85,"count":70},{"role":"hist","exp":1.95,"count":150},{"role":"hist","exp":2.05,"count":290},{"role":"hist","exp":2.13,"count":345},{"role":"hist","exp":2.2,"count":390},{"role":"hist","exp":2.26,"count":403},{"role":"hist","exp":2.32,"count":360},{"role":"hist","exp":2.4,"count":240},{"role":"hist","exp":2.5,"count":130},{"role":"hist","exp":2.6,"count":70},{"role":"hist","exp":2.7,"count":30},{"role":"hist","exp":2.85,"count":10},{"role":"hist","exp":3.1,"count":3},{"role":"hist","exp":3.5,"count":1},{"role":"hist","exp":5,"count":0},
{"role":"gate","exp":2.62,"exp2":5.19,"count":188},{"role":"cap","exp":2.62,"count":188},{"role":"cap","exp":5.19,"count":188},
{"role":"head","exp":3,"count":504,"label":"Bleomycin"}]},
"encoding":{"x":{"field":"exp","type":"quantitative","scale":{"domain":[-0.1,5.36],"range":[607.3,703.7]},"axis":{"orient":"bottom","offset":-347.7,"values":[0,1,2,3,4,5],"labelExpr":"'10'+['⁰','¹','²','³','⁴','⁵'][datum.value]","title":null,"labelFontSize":4.5,"tickSize":2,"labelPadding":2,"domainColor":"#555","tickColor":"#555"}},"y":{"field":"count","type":"quantitative","scale":{"domain":[-8,444],"range":[293.3,197.3]},"axis":{"orient":"left","offset":-607.3,"values":[0,100,200,300,400],"title":null,"labelFontSize":4.5,"tickSize":2,"labelPadding":2,"domainColor":"#555","tickColor":"#555"}}},
"layer":[
{"transform":[{"filter":"datum.role=='frame'"}],"mark":{"type":"rect","filled":false,"stroke":"#999","strokeWidth":1},"encoding":{"x2":{"field":"exp2"},"y2":{"field":"count2"}}},
{"transform":[{"filter":"datum.role=='hist'"}],"mark":{"type":"area","fill":"#9a9a9a","stroke":"#555","strokeWidth":1}},
{"transform":[{"filter":"datum.role=='gate'"}],"mark":{"type":"rule","color":"#444","strokeWidth":1.2},"encoding":{"x2":{"field":"exp2"}}},
{"transform":[{"filter":"datum.role=='cap'"}],"mark":{"type":"tick","orient":"vertical","size":4,"thickness":1,"color":"#444"}},
{"transform":[{"filter":"datum.role=='head'"}],"mark":{"type":"text","fontSize":10.8},"encoding":{"text":{"field":"label"}}}
]},
{"data":{"values":[
{"role":"frame","exp":-0.12,"exp2":5.34,"count":-6,"count2":416},
{"role":"hist","exp":0,"count":15},{"role":"hist","exp":0.15,"count":2},{"role":"hist","exp":1,"count":2},{"role":"hist","exp":1.2,"count":4},{"role":"hist","exp":1.4,"count":10},{"role":"hist","exp":1.55,"count":25},{"role":"hist","exp":1.7,"count":50},{"role":"hist","exp":1.8,"count":90},{"role":"hist","exp":1.9,"count":170},{"role":"hist","exp":1.97,"count":300},{"role":"hist","exp":2.04,"count":360},{"role":"hist","exp":2.12,"count":340},{"role":"hist","exp":2.2,"count":220},{"role":"hist","exp":2.3,"count":130},{"role":"hist","exp":2.4,"count":80},{"role":"hist","exp":2.5,"count":40},{"role":"hist","exp":2.65,"count":12},{"role":"hist","exp":2.9,"count":3},{"role":"hist","exp":3.5,"count":1},{"role":"hist","exp":5,"count":0},
{"role":"gate","exp":2.6,"exp2":5.24,"count":176},{"role":"cap","exp":2.6,"count":176},{"role":"cap","exp":5.24,"count":176}]},
"encoding":{"x":{"field":"exp","type":"quantitative","scale":{"domain":[-0.12,5.34],"range":[489,582.7]},"axis":{"orient":"bottom","offset":-225.3,"values":[0,1,2,3,4,5],"labelExpr":"'10'+['⁰','¹','²','³','⁴','⁵'][datum.value]","title":null,"labelFontSize":4.5,"tickSize":2,"labelPadding":2,"domainColor":"#555","tickColor":"#555"}},"y":{"field":"count","type":"quantitative","scale":{"domain":[-6,416],"range":[415.7,320.7]},"axis":{"orient":"left","offset":-489,"values":[0,100,200,300,400],"title":null,"labelFontSize":4.5,"tickSize":2,"labelPadding":2,"domainColor":"#555","tickColor":"#555"}}},
"layer":[
{"transform":[{"filter":"datum.role=='frame'"}],"mark":{"type":"rect","filled":false,"stroke":"#999","strokeWidth":1},"encoding":{"x2":{"field":"exp2"},"y2":{"field":"count2"}}},
{"transform":[{"filter":"datum.role=='hist'"}],"mark":{"type":"area","fill":"#9a9a9a","stroke":"#555","strokeWidth":1}},
{"transform":[{"filter":"datum.role=='gate'"}],"mark":{"type":"rule","color":"#444","strokeWidth":1.2},"encoding":{"x2":{"field":"exp2"}}},
{"transform":[{"filter":"datum.role=='cap'"}],"mark":{"type":"tick","orient":"vertical","size":4,"thickness":1,"color":"#444"}}
]},
{"data":{"values":[
{"role":"frame","exp":-0.17,"exp2":5.29,"count":-5,"count2":350},
{"role":"hist","exp":0,"count":12},{"role":"hist","exp":0.15,"count":2},{"role":"hist","exp":1,"count":2},{"role":"hist","exp":1.2,"count":3},{"role":"hist","exp":1.4,"count":8},{"role":"hist","exp":1.6,"count":22},{"role":"hist","exp":1.75,"count":45},{"role":"hist","exp":1.85,"count":90},{"role":"hist","exp":1.95,"count":190},{"role":"hist","exp":2.05,"count":280},{"role":"hist","exp":2.15,"count":315},{"role":"hist","exp":2.25,"count":280},{"role":"hist","exp":2.35,"count":240},{"role":"hist","exp":2.45,"count":170},{"role":"hist","exp":2.55,"count":90},{"role":"hist","exp":2.65,"count":30},{"role":"hist","exp":2.8,"count":8},{"role":"hist","exp":3,"count":3},{"role":"hist","exp":3.5,"count":1},{"role":"hist","exp":5,"count":0},
{"role":"gate","exp":2.49,"exp2":5.1,"count":147},{"role":"cap","exp":2.49,"count":147},{"role":"cap","exp":5.1,"count":147}]},
"encoding":{"x":{"field":"exp","type":"quantitative","scale":{"domain":[-0.17,5.29],"range":[609.3,705]},"axis":{"orient":"bottom","offset":-225.3,"values":[0,1,2,3,4,5],"labelExpr":"'10'+['⁰','¹','²','³','⁴','⁵'][datum.value]","title":null,"labelFontSize":4.5,"tickSize":2,"labelPadding":2,"domainColor":"#555","tickColor":"#555"}},"y":{"field":"count","type":"quantitative","scale":{"domain":[-5,350],"range":[415.7,320.7]},"axis":{"orient":"left","offset":-609.3,"values":[0,100,200,300],"title":null,"labelFontSize":4.5,"tickSize":2,"labelPadding":2,"domainColor":"#555","tickColor":"#555"}}},
"layer":[
{"transform":[{"filter":"datum.role=='frame'"}],"mark":{"type":"rect","filled":false,"stroke":"#999","strokeWidth":1},"encoding":{"x2":{"field":"exp2"},"y2":{"field":"count2"}}},
{"transform":[{"filter":"datum.role=='hist'"}],"mark":{"type":"area","fill":"#9a9a9a","stroke":"#555","strokeWidth":1}},
{"transform":[{"filter":"datum.role=='gate'"}],"mark":{"type":"rule","color":"#444","strokeWidth":1.2},"encoding":{"x2":{"field":"exp2"}}},
{"transform":[{"filter":"datum.role=='cap'"}],"mark":{"type":"tick","orient":"vertical","size":4,"thickness":1,"color":"#444"}}
]},
{"data":{"values":[
{"phase":"Sub G1","group":"p16-prof","value":4.1,"high":7.1},{"phase":"Sub G1","group":"p16-def","value":1.1,"high":1.9},{"phase":"G1","group":"p16-prof","value":29.8,"high":33.9},{"phase":"G1","group":"p16-def","value":29.4,"high":33.1},{"phase":"S","group":"p16-prof","value":41.2,"high":50.8},{"phase":"S","group":"p16-def","value":46.2,"high":55.1},{"phase":"G2/M","group":"p16-prof","value":9.3,"high":15.5},{"phase":"G2/M","group":"p16-def","value":10.4,"high":14.5}]},
"encoding":{"x":{"field":"phase","type":"nominal","sort":null,"scale":{"domain":["Sub G1","G1","S","G2/M"],"range":[45.2,217.3],"paddingInner":0,"paddingOuter":0},"axis":{"orient":"bottom","offset":-16.3,"title":null,"labelAngle":0,"labelFontSize":10.5,"ticks":false,"labelPadding":4,"domainWidth":1.2}},"y":{"field":"value","type":"quantitative","stack":null,"scale":{"domain":[0,60],"range":[624.7,517.3]},"axis":{"orient":"left","offset":-51,"values":[0,20,40,60],"title":"% Cells","labelFontSize":10.5,"titleFontSize":10.5,"tickSize":4,"labelPadding":3,"titlePadding":6,"domainWidth":1.2}}},
"layer":[
{"mark":{"type":"rule","color":"#000","strokeWidth":1.4},"encoding":{"xOffset":{"field":"group","scale":{"domain":["p16-prof","p16-def"],"paddingInner":0.34,"paddingOuter":0.52}},"y2":{"field":"high"}}},
{"mark":{"type":"tick","orient":"horizontal","size":6,"thickness":1.4,"color":"#000"},"encoding":{"xOffset":{"field":"group"},"y":{"field":"high","type":"quantitative"}}},
{"mark":{"type":"bar","stroke":"#000","strokeWidth":1.4},"encoding":{"xOffset":{"field":"group"},"fill":{"field":"group","scale":{"domain":["p16-prof","p16-def"],"range":["#000","#fff"]},"legend":{"orient":"none","legendX":64,"legendY":519,"title":null,"padding":0,"symbolType":"M-1.6,-0.9H1.6V0.9H-1.6Z","symbolSize":45,"symbolStrokeColor":"#000","symbolStrokeWidth":1.2,"labelFontSize":10.5,"labelOffset":4,"rowPadding":-2}}}}
]},
{"data":{"values":[
{"phase":"Sub G1","group":"p16-prof","value":15.6,"high":23.7},{"phase":"Sub G1","group":"p16-def","value":15.9,"high":23.5},{"phase":"G1","group":"p16-prof","value":20.2,"high":30},{"phase":"G1","group":"p16-def","value":13.7,"high":15.2},{"phase":"S","group":"p16-prof","value":10.6,"high":12.2},{"phase":"S","group":"p16-def","value":3,"high":4.3},{"phase":"G2/M","group":"p16-prof","value":27,"high":33.1},{"phase":"G2/M","group":"p16-def","value":40,"high":48.9},
{"role":"sig","phase":"S","value":16,"label":"***"},{"role":"sig","phase":"G2/M","value":51.1,"label":"*"}]},
"encoding":{"x":{"field":"phase","type":"nominal","sort":null,"scale":{"domain":["Sub G1","G1","S","G2/M"],"range":[248.9,421.7],"paddingInner":0,"paddingOuter":0},"axis":{"orient":"bottom","offset":-16.7,"title":null,"labelAngle":0,"labelFontSize":10.5,"ticks":false,"labelPadding":4,"domainWidth":1.2}},"y":{"field":"value","type":"quantitative","stack":null,"scale":{"domain":[0,60],"range":[624.3,516.7]},"axis":{"orient":"left","offset":-254,"values":[0,20,40,60],"title":"% Cells","labelFontSize":10.5,"titleFontSize":10.5,"tickSize":4,"labelPadding":3,"titlePadding":6,"domainWidth":1.2}}},
"layer":[
{"transform":[{"filter":"datum.group"}],"mark":{"type":"rule","color":"#000","strokeWidth":1.4},"encoding":{"xOffset":{"field":"group","scale":{"domain":["p16-prof","p16-def"],"paddingInner":0.34,"paddingOuter":0.52}},"y2":{"field":"high"}}},
{"transform":[{"filter":"datum.group"}],"mark":{"type":"tick","orient":"horizontal","size":6,"thickness":1.4,"color":"#000"},"encoding":{"xOffset":{"field":"group"},"y":{"field":"high","type":"quantitative"}}},
{"transform":[{"filter":"datum.group"}],"mark":{"type":"bar","stroke":"#000","strokeWidth":1.4},"encoding":{"xOffset":{"field":"group"},"fill":{"field":"group","scale":{"domain":["p16-prof","p16-def"],"range":["#000","#fff"]},"legend":{"orient":"none","legendX":262.5,"legendY":525,"title":null,"padding":0,"symbolType":"M-1.6,-0.9H1.6V0.9H-1.6Z","symbolSize":45,"symbolStrokeColor":"#000","symbolStrokeWidth":1.2,"labelFontSize":10.5,"labelOffset":4,"rowPadding":0}}}},
{"transform":[{"filter":"datum.role=='sig'"}],"mark":{"type":"tick","orient":"horizontal","size":23,"thickness":0.8,"color":"#555"}},
{"transform":[{"filter":"datum.role=='sig'"}],"mark":{"type":"text","fontSize":9,"fontWeight":"bold","dy":-3},"encoding":{"text":{"field":"label"}}}
]},
{"data":{"values":[
{"phase":"Untreated","group":"p16-prof","value":0.84,"high":1.15},{"phase":"Untreated","group":"p16-def","value":0.44,"high":0.62},{"phase":"Bleomycin","group":"p16-prof","value":7.2,"high":13},{"phase":"Bleomycin","group":"p16-def","value":8.85,"high":12.6}]},
"encoding":{"x":{"field":"phase","type":"nominal","sort":null,"scale":{"domain":["Untreated","Bleomycin"],"range":[527.75,696.75],"paddingInner":0,"paddingOuter":0},"axis":{"orient":"bottom","offset":-70,"title":null,"labelAngle":0,"labelFontSize":8,"ticks":false,"labelPadding":4,"domainWidth":1.2}},"y":{"field":"value","type":"quantitative","stack":null,"scale":{"domain":[0,15],"range":[571,458.3]},"axis":{"orient":"left","offset":-527,"values":[0,5,10,15],"title":["% Cleaved  caspase 3","positive cells"],"labelFontSize":8.5,"labelFontWeight":"bold","titleFontSize":9.5,"titleLineHeight":12,"tickSize":4,"labelPadding":2,"titlePadding":6,"domainWidth":1.2}}},
"layer":[
{"mark":{"type":"rule","color":"#000","strokeWidth":1.4},"encoding":{"xOffset":{"field":"group","scale":{"domain":["p16-prof","p16-def"],"paddingInner":0.34,"paddingOuter":0.49}},"y2":{"field":"high"}}},
{"mark":{"type":"tick","orient":"horizontal","size":11,"thickness":1.4,"color":"#000"},"encoding":{"xOffset":{"field":"group"},"y":{"field":"high","type":"quantitative"}}},
{"mark":{"type":"bar","stroke":"#000","strokeWidth":1},"encoding":{"xOffset":{"field":"group"},"fill":{"field":"group","scale":{"domain":["p16-prof","p16-def"],"range":["#000","#fff"]},"legend":{"orient":"none","legendX":539,"legendY":459,"title":null,"padding":0,"symbolType":"M-1.6,-0.7H1.6V0.7H-1.6Z","symbolSize":55,"symbolStrokeColor":"#000","symbolStrokeWidth":1,"labelFontSize":8.5,"labelOffset":3,"rowPadding":0}}}}
]}
]}
